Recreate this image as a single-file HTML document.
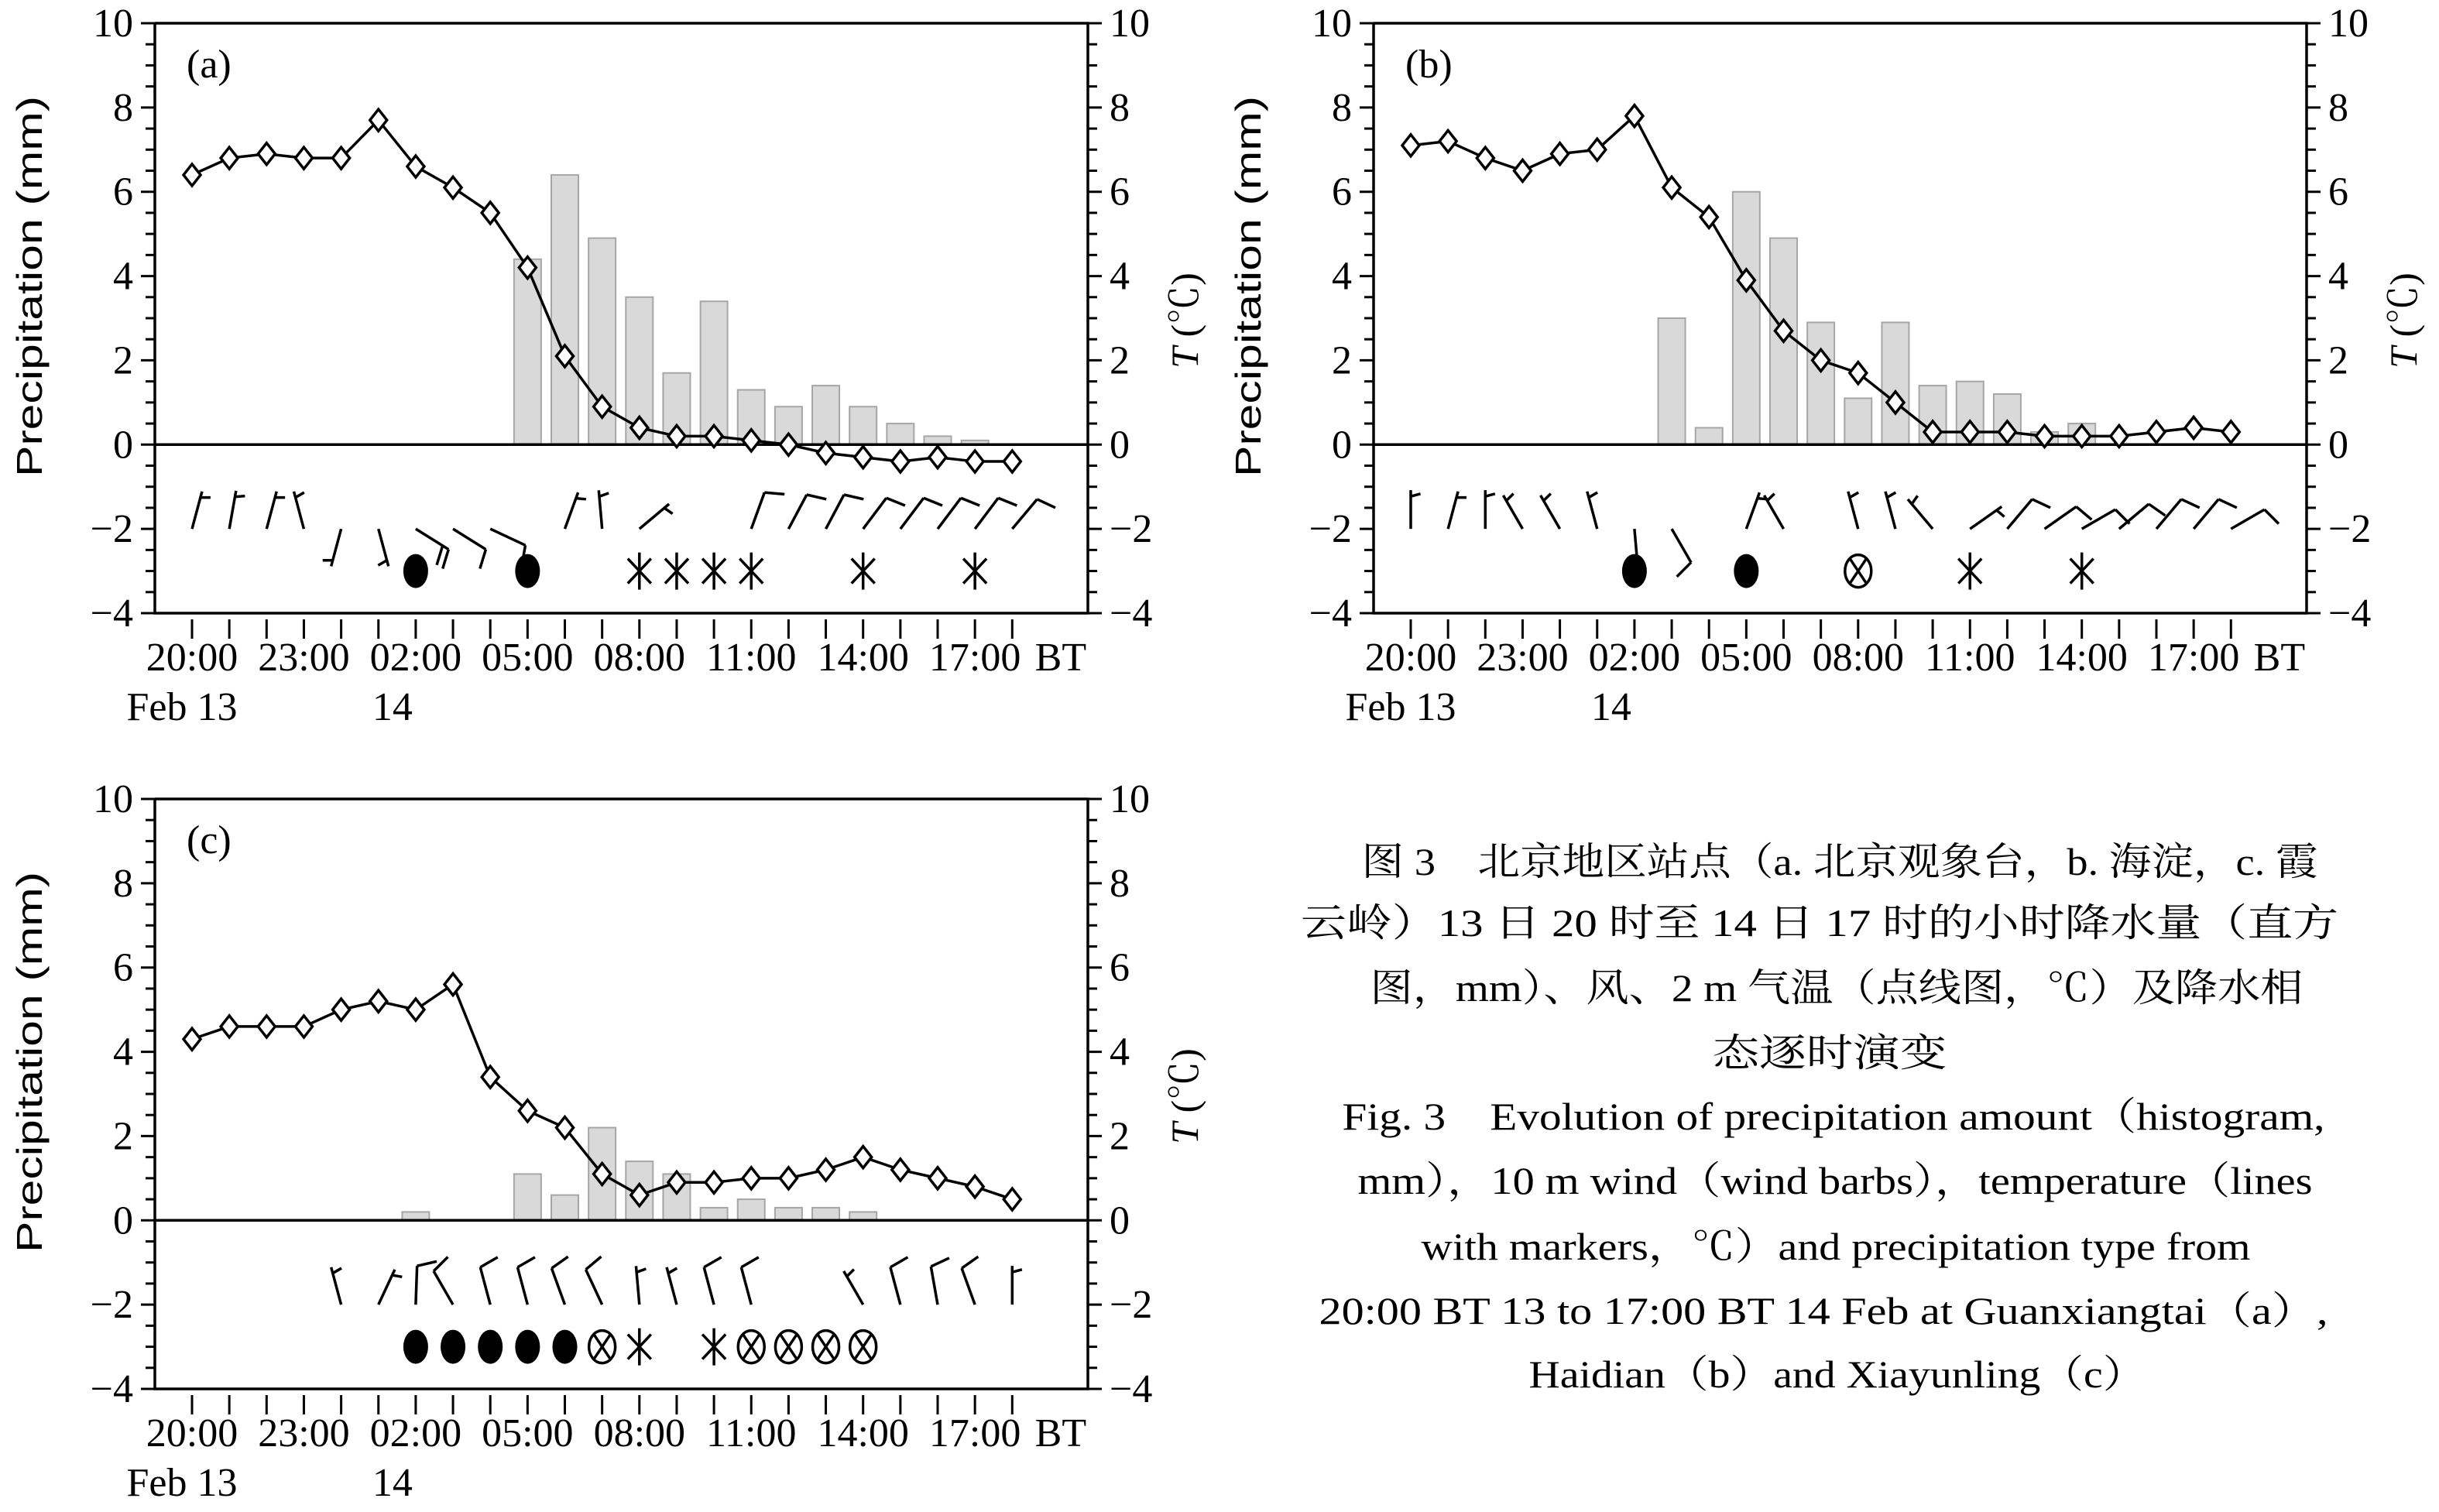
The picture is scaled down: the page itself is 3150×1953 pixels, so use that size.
<!DOCTYPE html>
<html><head><meta charset="utf-8"><title>Fig 3</title>
<style>
html,body{margin:0;padding:0;background:#fff;}
svg{display:block;}
.tk{font-family:"Liberation Serif",serif;font-size:52px;fill:#000;}
.cap{font-family:"Liberation Serif","Noto Serif CJK SC",serif;font-size:50px;fill:#000;}
</style></head>
<body>
<svg id="fig" width="3150" height="1953" viewBox="0 0 3150 1953" xmlns="http://www.w3.org/2000/svg">
<g id="panels"></g>
<g id="caption">
<text class="cap" x="2376" y="1130" text-anchor="middle" textLength="1235" lengthAdjust="spacingAndGlyphs">图 3　北京地区站点（a. 北京观象台，b. 海淀，c. 霞</text>
<text class="cap" x="2350" y="1209" text-anchor="middle" textLength="1340" lengthAdjust="spacingAndGlyphs">云岭）13 日 20 时至 14 日 17 时的小时降水量（直方</text>
<text class="cap" x="2372" y="1293" text-anchor="middle" textLength="1205" lengthAdjust="spacingAndGlyphs">图，mm）、风、2 m 气温（点线图，℃）及降水相</text>
<text class="cap" x="2363" y="1377" text-anchor="middle" textLength="303" lengthAdjust="spacingAndGlyphs">态逐时演变</text>
<text class="cap" x="2368" y="1459" text-anchor="middle" textLength="1269" lengthAdjust="spacingAndGlyphs">Fig. 3　Evolution of precipitation amount（histogram,</text>
<text class="cap" x="2370" y="1542" text-anchor="middle" textLength="1233" lengthAdjust="spacingAndGlyphs">mm），10 m wind（wind barbs），temperature（lines</text>
<text class="cap" x="2371" y="1627" text-anchor="middle" textLength="1071" lengthAdjust="spacingAndGlyphs">with markers，℃）and precipitation type from</text>
<text class="cap" x="2355" y="1710" text-anchor="middle" textLength="1303" lengthAdjust="spacingAndGlyphs">20:00 BT 13 to 17:00 BT 14 Feb at Guanxiangtai（a）,</text>
<text class="cap" x="2373" y="1792" text-anchor="middle" textLength="797" lengthAdjust="spacingAndGlyphs">Haidian（b）and Xiayunling（c）</text>
</g>
</svg>
<script>
// ---- data (hour index 0 = 20:00 Feb 13 ... 22 = 18:00 Feb 14)
const tickHours = ["20:00","23:00","02:00","05:00","08:00","11:00","14:00","17:00"];
const yTicks = [10,8,6,4,2,0,-2,-4];
const tempA = [6.4,6.8,6.9,6.8,6.8,7.7,6.6,6.1,5.5,4.2,2.1,0.9,0.4,0.2,0.2,0.1,0.0,-0.2,-0.3,-0.4,-0.3,-0.4,-0.4];
const tempB = [7.1,7.2,6.8,6.5,6.9,7.0,7.8,6.1,5.4,3.9,2.7,2.0,1.7,1.0,0.3,0.3,0.3,0.2,0.2,0.2,0.3,0.4,0.3];
const tempC = [4.3,4.6,4.6,4.6,5.0,5.2,5.0,5.6,3.4,2.6,2.2,1.1,0.6,0.9,0.9,1.0,1.0,1.2,1.5,1.2,1.0,0.8,0.5];
const precA = [0,0,0,0,0,0,0,0,0,4.4,6.4,4.9,3.5,1.7,3.4,1.3,0.9,1.4,0.9,0.5,0.2,0.1,0];
const precB = [0,0,0,0,0,0,0,3.0,0.4,6.0,4.9,2.9,1.1,2.9,1.4,1.5,1.2,0.3,0.5,0,0,0,0];
const precC = [0,0,0,0,0,0,0.2,0,0,1.1,0.6,2.2,1.4,1.1,0.3,0.5,0.3,0.3,0.2,0,0,0,0];
// wind direction (deg from north) and speed (m/s); null = no barb
const windDirA = [15,10,15,345,195,165,122,122,115,null,20,355,50,null,null,20,28,28,37,37,37,37,40];
const windSpdA = [2,2,2,2,2,2,8,4,4,null,2,2,2,null,null,4,4,4,4,4,4,4,4];
const windDirB = [0,15,0,330,330,345,175,150,null,20,330,null,345,345,320,55,40,55,60,50,40,40,60];
const windSpdB = [2,2,2,2,2,2,0,4,null,2,2,null,2,2,2,2,4,4,4,4,4,4,4];
const windDirC = [null,null,null,null,345,25,2,330,345,345,340,335,355,345,345,345,null,null,330,345,350,340,0];
const windSpdC = [null,null,null,null,2,2,4,4,4,4,4,4,2,2,4,4,null,null,2,4,4,4,2];
// precipitation type: 1 rain dot, 2 sleet (circled x), 3 snow asterisk
const wxA = [0,0,0,0,0,0,1,0,0,1,0,0,3,3,3,3,0,0,3,0,0,3,0];
const wxB = [0,0,0,0,0,0,1,0,0,1,0,0,2,0,0,3,0,0,3,0,0,0,0];
const wxC = [0,0,0,0,0,0,1,1,1,1,1,2,3,0,3,2,2,2,2,0,0,0,0];
const panelLabels = ["(a)","(b)","(c)"];

const NS="http://www.w3.org/2000/svg";
const root=document.getElementById('panels');
function mk(tag,attrs,parent){const e=document.createElementNS(NS,tag);for(const k in attrs)e.setAttribute(k,attrs[k]);(parent||root).appendChild(e);return e;}

function drawPanel(ox,oy,temp,prec,wdir,wspd,wx,label,name){
  const L=200+ox,R=1405+ox,T=30+oy,B=792+oy;
  const x0=248+ox,dx=48.15;
  const X=i=>x0+dx*i;
  const Y=v=>T+(10-v)*(B-T)/14;
  const g=mk('g',{});
  
  
  prec.forEach((p,i)=>{ if(p<=0) return;
    const r=mk('rect',{x:X(i)-17.5,y:Y(p),width:35,height:Y(0)-Y(p),fill:'#d9d9d9',stroke:'#a6a6a6','stroke-width':2},g);
    
    
  });
  const ax=mk('path',{d:`M${L},${T}V${B}H${R}V${T}H${L}`,fill:'none',stroke:'#000','stroke-width':3.5},g);
  
  
  const z=mk('line',{x1:L,x2:R,y1:Y(0),y2:Y(0),stroke:'#000','stroke-width':3.5},g);
  
  
  for(let v=-4;v<=10.001;v+=0.5){
    const major=Math.abs(v-Math.round(v/2)*2)<1e-6;
    const len=major?18:12;
    mk('line',{x1:L-len,x2:L,y1:Y(v),y2:Y(v),stroke:'#000','stroke-width':3},g);
    mk('line',{x1:R,x2:R+len,y1:Y(v),y2:Y(v),stroke:'#000','stroke-width':3},g);
  }
  yTicks.forEach(v=>{
    const s=(v<0?'\u2212':'')+Math.abs(v);
    const t1=mk('text',{x:L-28,y:Y(v)+17,'text-anchor':'end',class:'tk'},g);t1.textContent=s;
    
    
    const t2=mk('text',{x:R+28,y:Y(v)+17,'text-anchor':'start',class:'tk'},g);t2.textContent=s;
    
    
  });
  for(let i=0;i<23;i++) mk('line',{x1:X(i),x2:X(i),y1:B+8,y2:B+33,stroke:'#000','stroke-width':3},g);
  tickHours.forEach((h,k)=>{
    const t=mk('text',{x:X(k*3),y:B+74,'text-anchor':'middle',class:'tk'},g);t.textContent=h;
    
    
  });
  const bt=mk('text',{x:X(23.3),y:B+74,'text-anchor':'middle',class:'tk'},g);bt.textContent='BT';
  
  
  const d1=mk('text',{x:X(0)-13,y:B+138,'text-anchor':'middle',class:'tk'},g);d1.textContent='Feb 13';
  
  
  const d2=mk('text',{x:X(6)-30,y:B+138,'text-anchor':'middle',class:'tk'},g);d2.textContent='14';
  
  
  const yt=mk('text',{x:0,y:0,transform:`translate(${L-146},${T+340}) rotate(-90)`,'text-anchor':'middle','font-family':'"Liberation Sans",sans-serif','font-size':46,textLength:492,lengthAdjust:'spacingAndGlyphs'},g);
  yt.textContent='Precipitation (mm)';
  
  
  const rt=mk('text',{x:0,y:0,transform:`translate(${R+142},${T+384}) rotate(-90)`,'text-anchor':'middle','font-family':'"Liberation Serif","Noto Serif CJK SC",serif','font-size':50},g);
  rt.innerHTML='<tspan font-style="italic">T</tspan> (℃)';
  
  
  const pl=mk('text',{x:L+41,y:T+70,class:'tk','font-size':44},g);pl.textContent=label;
  
  
  const pts=temp.map((v,i)=>`${X(i)},${Y(v)}`).join(' ');
  const ln=mk('polyline',{points:pts,fill:'none',stroke:'#000','stroke-width':3.5},g);
  
  
  temp.forEach((v,i)=>{
    const cx=X(i),cy=Y(v);
    const dm=mk('path',{d:`M${cx},${cy-14}L${cx+11},${cy}L${cx},${cy+14}L${cx-11},${cy}Z`,fill:'#fff',stroke:'#000','stroke-width':3.5},g);
    
    
  });
  const by=Y(-2);
  wdir.forEach((d,i)=>{
    if(d===null) return;
    const a=d*Math.PI/180, ux=Math.sin(a), uy=-Math.cos(a);
    const bx=X(i), sl=50;
    const tx=bx+ux*sl, ty=by+uy*sl;
    let p=`M${bx},${by}L${tx},${ty}`;
    const ba=a+75*Math.PI/180, vx=Math.sin(ba), vy=-Math.cos(ba);
    let s=wspd[i], pos=0;
    while(s>=4){const sx=tx-ux*pos, sy=ty-uy*pos;p+=`M${sx},${sy}l${vx*26},${vy*26}`;s-=4;pos+=9;}
    if(s>=2){const sx=tx-ux*(pos+8), sy=ty-uy*(pos+8);p+=`M${sx},${sy}l${vx*13},${vy*13}`;}
    const w=mk('path',{d:p,fill:'none',stroke:'#000','stroke-width':3.5},g);
    
    
  });
  const sy=Y(-3);
  wx.forEach((k,i)=>{
    if(!k) return;
    const cx=X(i); let e;
    if(k===1) e=mk('ellipse',{cx:cx,cy:sy,rx:16,ry:22,fill:'#000'},g);
    else if(k===2){e=mk('g',{},g);
      mk('ellipse',{cx:cx,cy:sy,rx:17,ry:21,fill:'none',stroke:'#000','stroke-width':3.5},e);
      mk('path',{d:`M${cx-10},${sy-15}L${cx+10},${sy+15}M${cx+10},${sy-15}L${cx-10},${sy+15}`,stroke:'#000','stroke-width':3.5},e);}
    else {e=mk('path',{d:`M${cx},${sy-24}V${sy+24}M${cx-15},${sy-16}L${cx+15},${sy+16}M${cx+15},${sy-16}L${cx-15},${sy+16}`,stroke:'#000','stroke-width':3.5,fill:'none'},g);}
    
    
  });
}
drawPanel(0,0,tempA,precA,windDirA,windSpdA,wxA,panelLabels[0],'panel-a');
drawPanel(1574,0,tempB,precB,windDirB,windSpdB,wxB,panelLabels[1],'panel-b');
drawPanel(0,1002,tempC,precC,windDirC,windSpdC,wxC,panelLabels[2],'panel-c');
</script>
</body></html>
